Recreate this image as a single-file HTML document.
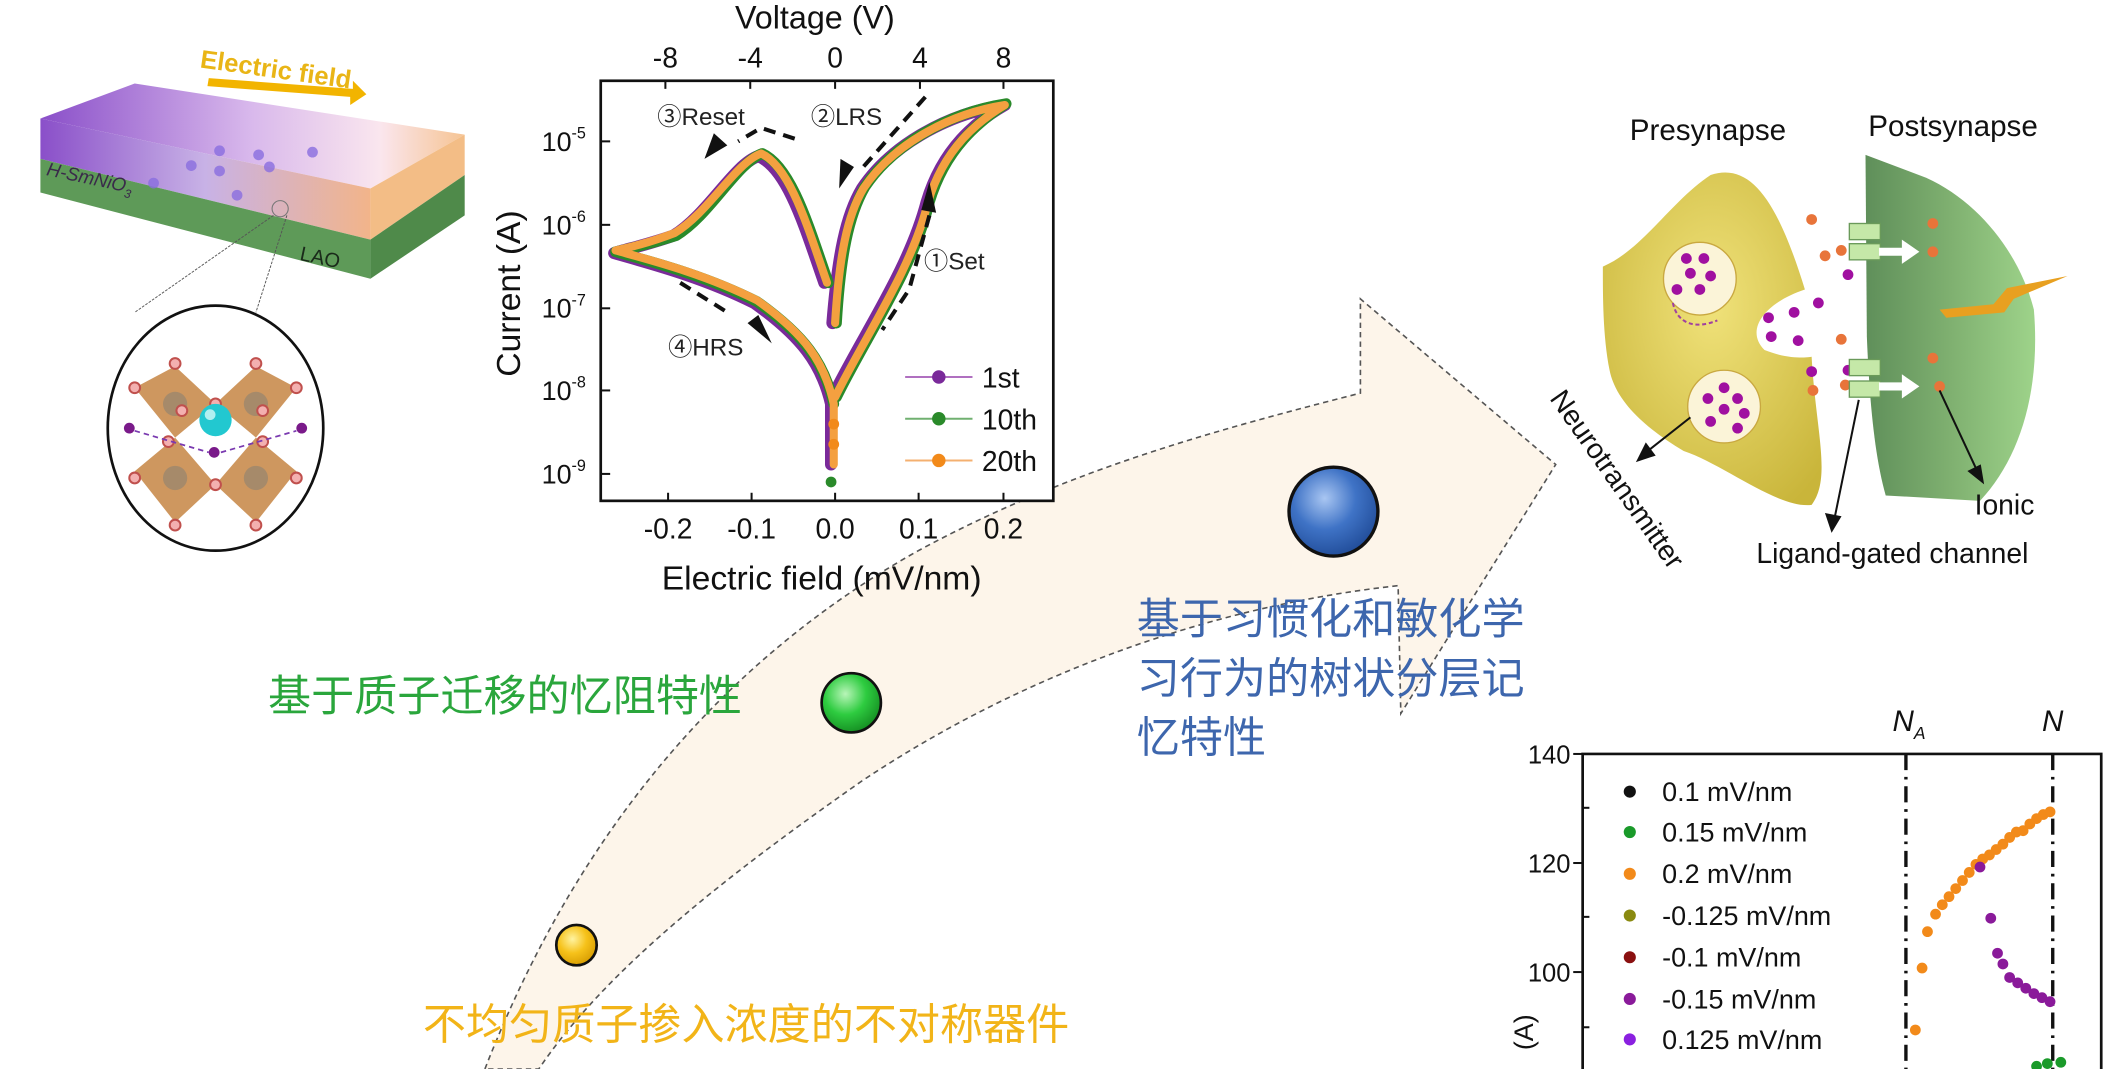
<!DOCTYPE html>
<html><head><meta charset="utf-8"><style>
html,body{margin:0;padding:0;background:#fff;}
svg{display:block;}
text{font-family:"Liberation Sans","Noto Sans CJK SC",sans-serif;}
.s{font-family:"Liberation Serif","Noto Serif CJK SC",serif;}
.cn{font-family:"Liberation Sans","Noto Sans CJK SC",sans-serif;}
</style></head><body>
<svg width="2112" height="1069" viewBox="0 0 1568 794" preserveAspectRatio="none" xmlns="http://www.w3.org/2000/svg">
<defs>
<linearGradient id="slab" x1="0" y1="0" x2="1" y2="0">
<stop offset="0" stop-color="#8a4fc9"/><stop offset="0.5" stop-color="#d9b9ec"/><stop offset="0.8" stop-color="#fae6ee"/><stop offset="1" stop-color="#f6c493"/></linearGradient>
<linearGradient id="front" x1="0" y1="0" x2="1" y2="0">
<stop offset="0" stop-color="#8a4fc9"/><stop offset="0.5" stop-color="#c8b2e6"/><stop offset="1" stop-color="#f2b48a"/></linearGradient>
<radialGradient id="gb" cx="0.4" cy="0.35" r="0.7"><stop offset="0" stop-color="#b8f5b8"/><stop offset="0.5" stop-color="#2ecc40"/><stop offset="1" stop-color="#138a20"/></radialGradient>
<radialGradient id="bb" cx="0.4" cy="0.35" r="0.7"><stop offset="0" stop-color="#a9c6f2"/><stop offset="0.5" stop-color="#3f73c6"/><stop offset="1" stop-color="#1f4a96"/></radialGradient>
<radialGradient id="yb" cx="0.4" cy="0.35" r="0.7"><stop offset="0" stop-color="#fff3a0"/><stop offset="0.5" stop-color="#f6c21a"/><stop offset="1" stop-color="#d59a00"/></radialGradient>
<radialGradient id="pre" cx="0.5" cy="0.4" r="0.7"><stop offset="0" stop-color="#f0e27a"/><stop offset="1" stop-color="#c9b53a"/></radialGradient>
<linearGradient id="post" x1="0" y1="0" x2="1" y2="0"><stop offset="0" stop-color="#5f8f5a"/><stop offset="0.5" stop-color="#7fb070"/><stop offset="1" stop-color="#9ed38a"/></linearGradient>
</defs>

<path d="M360,794 C420,640 520,500 680,410 C790,350 900,320 1010,292 L1010,222 L1155,345 L1040,530 L1038,435 C900,450 760,500 640,580 C540,650 450,720 400,794 Z" fill="#fdf5ea" stroke="#555" stroke-width="1.2" stroke-dasharray="4,3"/>

<text x="148" y="50" transform="rotate(8 148 50)" font-size="19" font-weight="bold" fill="#e9b516">Electric field</text>
<polygon points="155,58 262,66 262,60 272,70 260,78 260,72 154,64" fill="#f2b400"/>
<polygon points="30,88 100,62 345,100 275,140" fill="url(#slab)"/>
<polygon points="30,88 275,140 275,178 30,118" fill="url(#front)"/>
<polygon points="30,118 275,178 275,207 30,143" fill="#5e9a58"/>
<polygon points="275,140 345,100 345,130 275,178" fill="#f3bd86"/>
<polygon points="275,178 345,130 345,160 275,207" fill="#4f8a4a"/>
<g fill="#8a6ee0" opacity="0.8"><circle cx="163" cy="112" r="4"/><circle cx="192" cy="115" r="4"/><circle cx="232" cy="113" r="4"/><circle cx="142" cy="123" r="4"/><circle cx="163" cy="127" r="4"/><circle cx="200" cy="124" r="4"/><circle cx="114" cy="136" r="4"/><circle cx="176" cy="145" r="4"/></g>
<text x="34" y="130" transform="rotate(12 34 130)" font-size="14" font-style="italic" fill="#3a2a4a">H-SmNiO<tspan font-size="9" dy="4">3</tspan></text>
<text x="222" y="193" transform="rotate(12 222 193)" font-size="15" fill="#1a2a1a">LAO</text>
<circle cx="208" cy="155" r="6" fill="none" stroke="#777" stroke-width="0.8"/>
<line x1="203" y1="160" x2="100" y2="232" stroke="#555" stroke-width="0.7" stroke-dasharray="2,1"/>
<line x1="213" y1="160" x2="190" y2="232" stroke="#555" stroke-width="0.7" stroke-dasharray="2,1"/>
<ellipse cx="160" cy="318" rx="80" ry="91" fill="#fff" stroke="#111" stroke-width="2"/>
<g fill="#c98c4e" opacity="0.9">
<polygon points="130,272 100,288 130,325 160,300"/><polygon points="190,272 220,288 190,325 160,300"/>
<polygon points="130,325 100,350 130,388 160,360"/><polygon points="190,325 220,350 190,388 160,360"/>
</g>
<g fill="#a68a6a"><circle cx="130" cy="300" r="9"/><circle cx="190" cy="300" r="9"/><circle cx="130" cy="355" r="9"/><circle cx="190" cy="355" r="9"/></g>
<g fill="#f3b0b0" stroke="#c0504d" stroke-width="1.5"><circle cx="130" cy="270" r="4"/><circle cx="190" cy="270" r="4"/><circle cx="100" cy="288" r="4"/><circle cx="220" cy="288" r="4"/><circle cx="160" cy="300" r="4"/><circle cx="135" cy="305" r="4"/><circle cx="195" cy="305" r="4"/><circle cx="125" cy="328" r="4"/><circle cx="195" cy="328" r="4"/><circle cx="160" cy="360" r="4"/><circle cx="100" cy="355" r="4"/><circle cx="220" cy="355" r="4"/><circle cx="130" cy="390" r="4"/><circle cx="190" cy="390" r="4"/></g>
<circle cx="160" cy="312" r="12" fill="#22c8d0"/><circle cx="156" cy="308" r="4" fill="#b0f0f0"/>
<g fill="#7a1a8a"><circle cx="96" cy="318" r="4"/><circle cx="224" cy="318" r="4"/><circle cx="159" cy="336" r="4"/></g>
<path d="M100,320 L155,336 M164,336 L220,320" stroke="#7a3ab0" stroke-width="1.3" stroke-dasharray="4,3" fill="none"/>

<rect x="446" y="60" width="336" height="312" fill="#fff" stroke="#111" stroke-width="2"/>
<text x="605" y="21" font-size="24" text-anchor="middle" fill="#111">Voltage (V)</text>
<g font-size="21" text-anchor="middle" fill="#111"><text x="494" y="50">-8</text><text x="557" y="50">-4</text><text x="620" y="50">0</text><text x="683" y="50">4</text><text x="745" y="50">8</text></g>
<g stroke="#111" stroke-width="1.5"><line x1="494" y1="60" x2="494" y2="66"/><line x1="557" y1="60" x2="557" y2="66"/><line x1="620" y1="60" x2="620" y2="66"/><line x1="683" y1="60" x2="683" y2="66"/><line x1="745" y1="60" x2="745" y2="66"/>
<line x1="496" y1="372" x2="496" y2="366"/><line x1="558" y1="372" x2="558" y2="366"/><line x1="620" y1="372" x2="620" y2="366"/><line x1="682" y1="372" x2="682" y2="366"/><line x1="745" y1="372" x2="745" y2="366"/>
<line x1="446" y1="105" x2="453" y2="105"/><line x1="446" y1="167" x2="453" y2="167"/><line x1="446" y1="229" x2="453" y2="229"/><line x1="446" y1="290" x2="453" y2="290"/><line x1="446" y1="352" x2="453" y2="352"/></g>
<g font-size="20" fill="#111" text-anchor="end"><text x="435" y="112">10<tspan font-size="12" dy="-9">-5</tspan></text><text x="435" y="174">10<tspan font-size="12" dy="-9">-6</tspan></text><text x="435" y="236">10<tspan font-size="12" dy="-9">-7</tspan></text><text x="435" y="297">10<tspan font-size="12" dy="-9">-8</tspan></text><text x="435" y="359">10<tspan font-size="12" dy="-9">-9</tspan></text></g>
<text x="386" y="218" transform="rotate(-90 386 218)" font-size="25" text-anchor="middle" fill="#111">Current (A)</text>
<g font-size="21" text-anchor="middle" fill="#111"><text x="496" y="400">-0.2</text><text x="558" y="400">-0.1</text><text x="620" y="400">0.0</text><text x="682" y="400">0.1</text><text x="745" y="400">0.2</text></g>
<text x="610" y="438" font-size="25" text-anchor="middle" fill="#111">Electric field (mV/nm)</text>
<g fill="none" stroke-linecap="round" stroke-linejoin="round">
<path d="M618,295 C640,250 675,200 688,150 C700,110 725,90 746,78 C700,85 660,110 640,140 C628,160 622,190 618,240" stroke="#7a2a9a" stroke-width="9"/>
<path d="M612,210 C598,170 585,125 563,116 C545,122 525,160 500,175 C480,182 465,185 456,188 C480,195 520,205 560,225 C595,250 610,270 617,300 L617,345" stroke="#7a2a9a" stroke-width="9"/>
<path d="M621,295 C643,250 678,200 690,150 C702,110 727,90 747,77 C702,84 662,109 642,139 C630,160 624,190 621,240" stroke="#2a8a2a" stroke-width="8"/>
<path d="M615,210 C601,170 588,124 566,114 C547,121 527,160 502,175 C480,182 466,185 457,187 C482,194 522,204 562,224 C597,249 612,269 619,300" stroke="#2a8a2a" stroke-width="8"/>
<path d="M620,295 C642,250 677,200 689,150 C701,110 726,90 746,78 C701,85 661,110 641,140 C629,160 623,190 620,240" stroke="#f4a040" stroke-width="6"/>
<path d="M614,210 C600,170 587,124 565,114 C546,121 526,158 501,173 C480,181 466,184 457,186 C482,193 522,203 562,223 C597,248 612,268 619,300 L619,345" stroke="#f4a040" stroke-width="6"/>
</g>
<g fill="#f28a1a"><circle cx="619" cy="330" r="4"/><circle cx="619" cy="315" r="4"/></g>
<circle cx="617" cy="358" r="4" fill="#2a8a2a"/>
<g stroke="#111" stroke-width="3" stroke-dasharray="9,6" fill="none"><path d="M590,103 L565,95 L548,105"/><path d="M687,72 L640,125"/><path d="M690,160 L675,215 L655,245"/><path d="M505,210 L540,232"/></g>
<g fill="#111"><polygon points="523,118 530,99 540,108"/><polygon points="623,140 624,118 634,124"/><polygon points="690,135 695,158 684,156"/><polygon points="573,255 555,240 563,234"/></g>
<g class="s" font-size="18" fill="#222"><text x="488" y="93">③Reset</text><text x="602" y="93">②LRS</text><text x="686" y="200">①Set</text><text x="496" y="264">④HRS</text></g>
<g stroke-width="1.5"><line x1="672" y1="280" x2="722" y2="280" stroke="#b070c0"/><line x1="672" y1="311" x2="722" y2="311" stroke="#70b070"/><line x1="672" y1="342" x2="722" y2="342" stroke="#f4b070"/></g>
<circle cx="697" cy="280" r="5" fill="#7a2a9a"/><circle cx="697" cy="311" r="5" fill="#2a8a2a"/><circle cx="697" cy="342" r="5" fill="#f28a1a"/>
<g font-size="21" fill="#111"><text x="729" y="288">1st</text><text x="729" y="319">10th</text><text x="729" y="350">20th</text></g>

<circle cx="428" cy="702" r="15" fill="url(#yb)" stroke="#111" stroke-width="2"/>
<circle cx="632" cy="522" r="22" fill="url(#gb)" stroke="#111" stroke-width="2"/>
<circle cx="990" cy="380" r="33" fill="url(#bb)" stroke="#111" stroke-width="2.5"/>

<text class="cn" x="199" y="528" font-size="32" fill="#2aa63c">基于质子迁移的忆阻特性</text>
<text class="cn" x="314" y="772" font-size="32" fill="#f2b418">不均匀质子掺入浓度的不对称器件</text>
<g class="cn" font-size="32" fill="#3d66ad"><text x="844" y="471">基于习惯化和敏化学</text><text x="844" y="515">习行为的树状分层记</text><text x="844" y="559">忆特性</text></g>

<text x="1268" y="104" font-size="22" text-anchor="middle" fill="#111">Presynapse</text>
<text x="1450" y="101" font-size="22" text-anchor="middle" fill="#111">Postsynapse</text>
<path d="M1190,198 C1220,185 1240,150 1270,130 C1300,120 1320,150 1340,215 C1310,225 1295,245 1310,260 C1330,268 1345,265 1345,265 C1348,320 1360,355 1345,375 C1320,378 1280,345 1250,335 C1225,320 1200,300 1195,275 C1190,250 1190,220 1190,198 Z" fill="url(#pre)"/>
<path d="M1385,115 L1430,132 C1470,150 1500,190 1510,230 C1515,290 1500,340 1470,372 L1400,368 C1392,340 1388,300 1386,250 Z" fill="url(#post)"/>
<circle cx="1262" cy="207" r="27" fill="#fbf4d8" stroke="#c9a840"/><circle cx="1280" cy="302" r="27" fill="#fbf4d8" stroke="#c9a840"/>
<g fill="#a010a0"><circle cx="1252" cy="192" r="4"/><circle cx="1265" cy="192" r="4"/><circle cx="1255" cy="203" r="4"/><circle cx="1270" cy="205" r="4"/><circle cx="1245" cy="215" r="4"/><circle cx="1262" cy="215" r="4"/>
<circle cx="1280" cy="288" r="4"/><circle cx="1268" cy="296" r="4"/><circle cx="1290" cy="296" r="4"/><circle cx="1280" cy="304" r="4"/><circle cx="1295" cy="307" r="4"/><circle cx="1270" cy="313" r="4"/><circle cx="1290" cy="318" r="4"/>
<circle cx="1313" cy="236" r="4"/><circle cx="1332" cy="232" r="4"/><circle cx="1350" cy="225" r="4"/><circle cx="1315" cy="250" r="4"/><circle cx="1335" cy="253" r="4"/><circle cx="1345" cy="276" r="4"/><circle cx="1372" cy="204" r="4"/><circle cx="1372" cy="275" r="4"/></g>
<g fill="#e8743a"><circle cx="1345" cy="163" r="4"/><circle cx="1355" cy="190" r="4"/><circle cx="1367" cy="186" r="4"/><circle cx="1367" cy="252" r="4"/><circle cx="1346" cy="290" r="4"/><circle cx="1370" cy="286" r="4"/><circle cx="1435" cy="166" r="4"/><circle cx="1435" cy="187" r="4"/><circle cx="1435" cy="266" r="4"/><circle cx="1440" cy="287" r="4"/></g>
<g fill="#c5e8a8" stroke="#6a9a5a"><rect x="1373" y="166" width="23" height="12"/><rect x="1373" y="181" width="23" height="12"/><rect x="1373" y="267" width="23" height="12"/><rect x="1373" y="283" width="23" height="12"/></g>
<g fill="#fff"><polygon points="1395,184 1412,184 1412,178 1425,187 1412,196 1412,190 1395,190"/><polygon points="1395,284 1412,284 1412,278 1425,287 1412,296 1412,290 1395,290"/></g>
<polygon points="1440,230 1480,226 1490,214 1535,205 1495,222 1488,232 1445,236" fill="#e8a020"/>
<path d="M1242,225 C1245,240 1258,245 1275,238" stroke="#a040a0" stroke-width="1.5" stroke-dasharray="3,2" fill="none"/>
<g stroke="#111" stroke-width="1.5" fill="#111"><line x1="1255" y1="310" x2="1222" y2="336"/><polygon points="1216,342 1222,330 1228,338"/>
<line x1="1380" y1="297" x2="1362" y2="385"/><polygon points="1360,394 1356,382 1366,384"/>
<line x1="1440" y1="290" x2="1468" y2="350"/><polygon points="1472,358 1462,350 1470,346"/></g>
<text x="1150" y="296" transform="rotate(55 1150 296)" font-size="21" fill="#111">Neurotransmitter</text>
<text x="1466" y="382" font-size="21" fill="#111">Ionic</text>
<text x="1304" y="418" font-size="21" fill="#111">Ligand-gated channel</text>

<path d="M1175,794 L1175,560 L1560,560 L1560,794" fill="#fff" stroke="#111" stroke-width="2"/>
<g stroke="#111" stroke-width="1.5"><line x1="1168" y1="560" x2="1175" y2="560"/><line x1="1168" y1="641" x2="1175" y2="641"/><line x1="1168" y1="722" x2="1175" y2="722"/><line x1="1175" y1="600" x2="1180" y2="600"/><line x1="1175" y1="681" x2="1180" y2="681"/><line x1="1175" y1="763" x2="1180" y2="763"/></g>
<g font-size="19" text-anchor="end" fill="#111"><text x="1166" y="567">140</text><text x="1166" y="648">120</text><text x="1166" y="729">100</text></g>
<text x="1138" y="780" transform="rotate(-90 1138 780)" font-size="20" fill="#111">(A)</text>
<g stroke="#111" stroke-width="2.5" stroke-dasharray="12,5,2,5"><line x1="1415" y1="560" x2="1415" y2="794"/><line x1="1524" y1="560" x2="1524" y2="794"/></g>
<text x="1405" y="543" font-size="22" font-style="italic" fill="#111">N<tspan font-size="13" dy="6">A</tspan></text>
<text x="1516" y="543" font-size="22" font-style="italic" fill="#111">N</text>
<g><circle cx="1210" cy="588" r="4.5" fill="#111"/><circle cx="1210" cy="618" r="4.5" fill="#1a9a2a"/><circle cx="1210" cy="649" r="4.5" fill="#f28a1a"/><circle cx="1210" cy="680" r="4.5" fill="#8a8a10"/><circle cx="1210" cy="711" r="4.5" fill="#8a1010"/><circle cx="1210" cy="742" r="4.5" fill="#8a1a9a"/><circle cx="1210" cy="772" r="4.5" fill="#8a20e0"/></g>
<g font-size="20" fill="#111"><text x="1234" y="595">0.1 mV/nm</text><text x="1234" y="625">0.15 mV/nm</text><text x="1234" y="656">0.2 mV/nm</text><text x="1234" y="687">-0.125 mV/nm</text><text x="1234" y="718">-0.1 mV/nm</text><text x="1234" y="749">-0.15 mV/nm</text><text x="1234" y="779">0.125 mV/nm</text></g>
<g fill="#f28a1a"><circle cx="1422" cy="765" r="4"/><circle cx="1427" cy="719" r="4"/><circle cx="1431" cy="692" r="4"/><circle cx="1437" cy="679" r="4"/><circle cx="1442" cy="672" r="4"/><circle cx="1447" cy="666" r="4"/><circle cx="1452" cy="660" r="4"/><circle cx="1457" cy="654" r="4"/><circle cx="1462" cy="648" r="4"/><circle cx="1467" cy="642" r="4"/><circle cx="1472" cy="638" r="4"/><circle cx="1477" cy="635" r="4"/><circle cx="1482" cy="631" r="4"/><circle cx="1487" cy="627" r="4"/><circle cx="1492" cy="622" r="4"/><circle cx="1497" cy="618" r="4"/><circle cx="1502" cy="617" r="4"/><circle cx="1507" cy="612" r="4"/><circle cx="1512" cy="608" r="4"/><circle cx="1517" cy="605" r="4"/><circle cx="1522" cy="603" r="4"/></g>
<g fill="#8a1a9a"><circle cx="1470" cy="644" r="4"/><circle cx="1478" cy="682" r="4"/><circle cx="1483" cy="708" r="4"/><circle cx="1487" cy="716" r="4"/><circle cx="1492" cy="726" r="4"/><circle cx="1498" cy="730" r="4"/><circle cx="1504" cy="734" r="4"/><circle cx="1510" cy="738" r="4"/><circle cx="1516" cy="741" r="4"/><circle cx="1522" cy="744" r="4"/></g>
<g fill="#1a9a2a"><circle cx="1512" cy="792" r="4"/><circle cx="1520" cy="790" r="4"/><circle cx="1530" cy="789" r="4"/></g>
</svg>
</body></html>
